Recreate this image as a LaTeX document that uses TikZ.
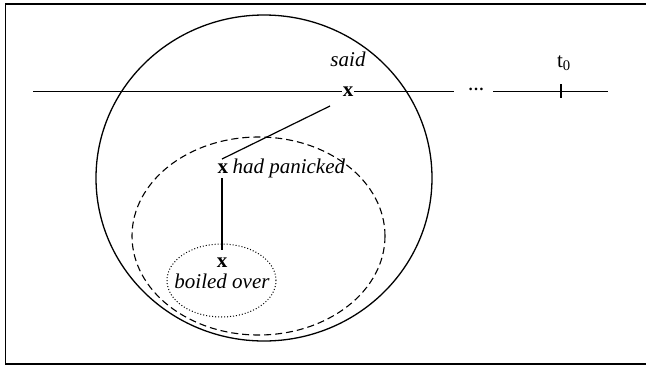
\documentclass[tikz,border=0pt]{standalone}
\usepackage{fontspec}
\setmainfont{Liberation Serif}
\usetikzlibrary{shapes.geometric}
\begin{document}
\begin{tikzpicture}[x=1pt,y=-1pt,line width=1.1pt,
  itlbl/.style={inner sep=0pt,anchor=base,font=\fontsize{21}{25}\selectfont\itshape},
  uplbl/.style={inner sep=0pt,anchor=base,font=\fontsize{21}{25}\selectfont},
  xlbl/.style={inner sep=0pt,anchor=base,font=\fontsize{21}{25}\selectfont\bfseries},
  ring/.style={draw,ellipse,inner sep=0pt}]
\useasboundingbox (0,0) rectangle (646,365);
\clip (0,0) rectangle (646,365);
% frame
\coordinate (ftr) at (700,4);
\coordinate (ftl) at (5.5,4);
\coordinate (fbl) at (5.5,364);
\coordinate (fbr) at (700,364);
\draw[line width=1.3pt] (ftr) -- (ftl) -- (fbl) -- (fbr);
% ellipses
\node[ring,line width=1.3pt,minimum width=336pt,minimum height=326pt] (big) at (264,178) {};
\node[ring,dashed,dash pattern=on 7pt off 4pt,minimum width=253pt,minimum height=198pt] (mid) at (258.5,236) {};
\node[ring,dotted,line width=1pt,minimum width=109pt,minimum height=73pt] (small) at (221.5,280.5) {};
% timeline
\coordinate (tla) at (33,91);
\coordinate (tlb) at (454,91);
\coordinate (tlc) at (493,91);
\coordinate (tld) at (608,91);
\coordinate (tka) at (561,84);
\coordinate (tkb) at (561,98);
\draw[line width=1pt] (tla) -- (tlb);
\draw[line width=1pt] (tlc) -- (tld);
\draw[line width=1.3pt] (tka) -- (tkb);
\node[inner sep=0pt,anchor=base,font=\fontsize{16}{18}\selectfont\bfseries] (dots) at (476,90) {\char"2026};
\node[uplbl] (t0) at (564,67) {t\textsubscript{0}};
% labels
\node[itlbl] (said) at (348,66) {said};
\node[xlbl,fill=white,inner xsep=0.5pt] (xs) at (348,96) {x};
\node[xlbl,anchor=base west] (xh) at (217,173) {x};
\node[itlbl,anchor=base west] (hp) at (232,173) {had panicked};
\node[xlbl] (xb) at (222,267) {x};
\node[itlbl] (bo) at (222,288) {boiled over};
% connectors
\coordinate (la) at (330,106);
\coordinate (lb) at (222,159);
\coordinate (va) at (222,178);
\coordinate (vb) at (222,250);
\draw[line width=1.2pt] (la) -- (lb);
\draw[line width=1.2pt] (va) -- (vb);
\end{tikzpicture}
\end{document}
